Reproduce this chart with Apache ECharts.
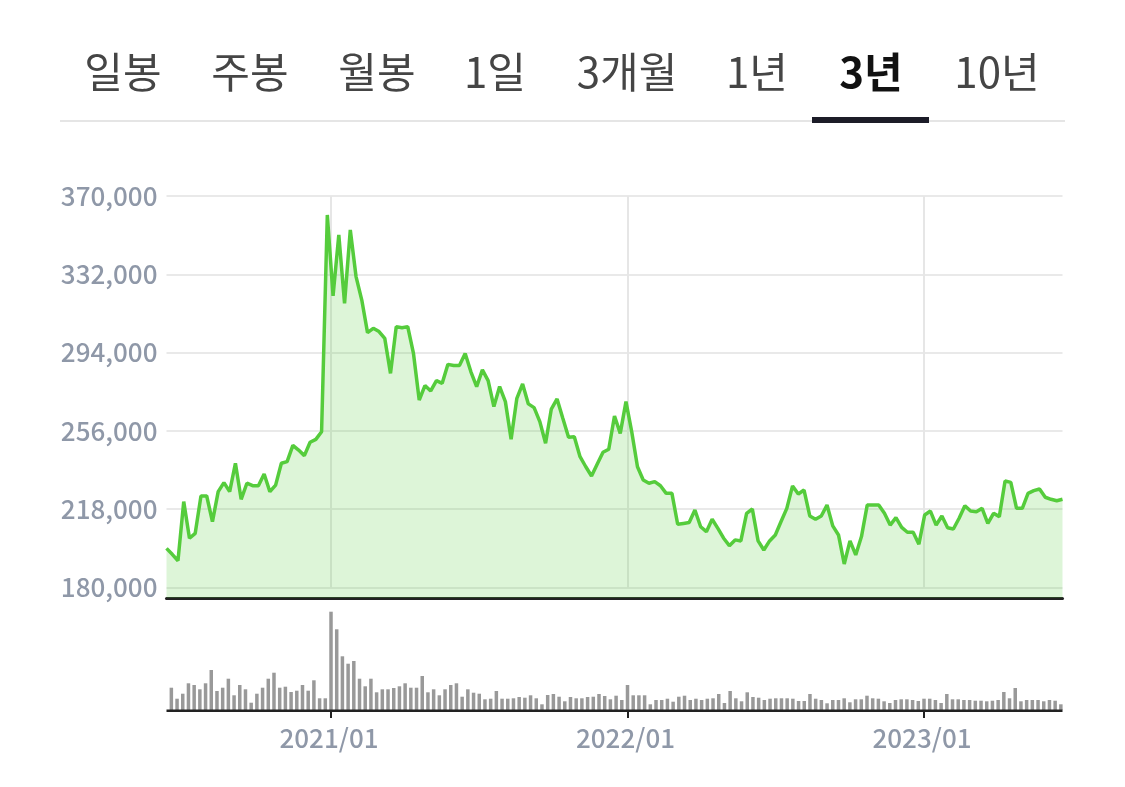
<!DOCTYPE html>
<html>
<head>
<meta charset="utf-8">
<title>3년 차트</title>
<style>
html, body { margin: 0; padding: 0; background: #fff; }
#main { width: 1125px; height: 787px; }
</style>
</head>
<body>
<div id="main"></div>
<script src="https://cdn.jsdelivr.net/npm/echarts@6/dist/echarts.min.js"></script>
<script>
var tabNames = ['일봉', '주봉', '월봉', '1일', '3개월', '1년', '3년', '10년'];
var activeTab = '3년';

var priceTicks = [180000, 218000, 256000, 294000, 332000, 370000];
var tickWeeks = [28, 80, 132];
var tickLabels = ['2021/01', '2022/01', '2023/01'];

// 주간 종가
var prices = [
    199000, 196100, 193000, 221700, 203900, 206300, 224400, 224400, 212000, 226500,
    230900, 226500, 240300, 222800, 230600, 229400, 229400, 235100, 226500, 229700,
    240300, 241100, 249000, 246700, 244000, 250500, 251900, 255600, 360800, 321500,
    351100, 317900, 353500, 330900, 319500, 303700, 305800, 304200, 300900, 283900,
    306600, 306100, 306600, 293600, 271000, 278000, 275400, 280400, 279100, 288300,
    287700, 287700, 293600, 284700, 277500, 285600, 280400, 267800, 277500, 270200,
    251900, 271800, 278800, 269100, 267300, 260500, 250000, 266600, 271500, 262100,
    252900, 253200, 243500, 238600, 234100, 239900, 245600, 247100, 263200, 254800,
    270200, 255600, 238600, 232200, 230600, 231400, 229400, 225700, 225700, 210700,
    211100, 211500, 217600, 209500, 207100, 213100, 208700, 203900, 200300, 203100,
    202600, 216000, 218100, 202600, 198200, 202600, 205500, 212000, 218400, 229300,
    225400, 227300, 214700, 213100, 214700, 220000, 209900, 205500, 191400, 202600,
    195800, 204700, 220000, 220000, 220000, 216000, 210300, 213900, 209200, 206800,
    206800, 201000, 215200, 217100, 210300, 214700, 209000, 208400, 213600, 219700,
    217100, 216800, 218400, 211100, 216000, 214400, 231700, 231000, 218400, 218400,
    225700, 227000, 227800, 223800, 222800, 222100, 222800
];

// 주간 거래량 (상대값)
var volumes = [
    22.3, 11.3, 16.3, 26.7, 25, 20.7, 26.7, 40, 19, 22.3,
    31.3, 14.7, 25, 20.7, 7.3, 16.3, 22.3, 31.3, 37.3, 22.3,
    23.3, 18, 19.3, 25, 19.3, 29.7, 11.7, 11.7, 98.3, 80.7,
    53.7, 46.3, 49, 31.3, 23.7, 31.3, 17.7, 20.7, 20.7, 22,
    23.7, 26.7, 22.3, 22.3, 34, 17.7, 20.7, 14.7, 20.7, 25,
    26.7, 13.3, 20.7, 17.3, 16.3, 10.7, 11.3, 19, 11.3, 11.3,
    11.7, 13, 12.3, 14.7, 11.7, 5.7, 15, 16, 13.3, 8.7,
    13, 11.7, 11.7, 13, 13.3, 16, 14, 10.7, 14.3, 10,
    25, 14.7, 14.7, 14.7, 5.7, 10, 10, 11.3, 8.3, 13.3,
    14.3, 10, 11.3, 10, 11.3, 11.7, 16, 7, 19, 11.7,
    8.7, 17.7, 13, 12.3, 10, 11.3, 11.7, 11.7, 11.7, 11.3,
    9, 9, 16, 11.3, 10, 6.7, 10, 10, 11.7, 7.7,
    10.7, 10.7, 14.3, 11.7, 11.3, 8.7, 7, 10, 10.7, 10.7,
    10, 9, 11.3, 11.3, 10, 7, 16, 10.7, 10.7, 10,
    10, 9.3, 9.3, 8.7, 9.3, 10, 18, 11.7, 22, 8.7,
    10, 10, 10, 8.7, 10, 9.3, 5.7
];

var weeks = [];
for (var i = 0; i < prices.length; i++) {
    weeks.push(i);
}

var tabCenters = [123, 250, 377, 495, 627, 757, 871, 997];
var labelFont = '"Noto Sans CJK KR", "Noto Sans", sans-serif';

function isTickWeek(index) {
    return tickWeeks.indexOf(index) >= 0;
}

// 상단 탭은 그냥 graphic 으로 그린다
var graphics = [];
for (var t = 0; t < tabNames.length; t++) {
    var active = tabNames[t] === activeTab;
    graphics.push({
        type: 'text',
        style: {
            text: tabNames[t],
            x: tabCenters[t],
            y: 72,
            textAlign: 'center',
            textVerticalAlign: 'middle',
            fill: active ? '#111111' : '#454545',
            font: (active ? 'bold ' : '') + '42px ' + labelFont
        }
    });
}
graphics.push({
    type: 'rect',
    shape: { x: 60, y: 120, width: 1005, height: 2 },
    style: { fill: '#e5e5e5' }
});
graphics.push({
    type: 'rect',
    shape: { x: 812, y: 117, width: 117, height: 6 },
    style: { fill: '#1c1c28' }
});
// 거래량 기준선
graphics.push({
    type: 'rect',
    shape: { x: 166.5, y: 709.5, width: 896, height: 2.5 },
    style: { fill: '#222222' },
    z: 5
});

var myChart = echarts.init(document.getElementById('main'));

var option = {
    animation: false,
    backgroundColor: '#ffffff',
    graphic: graphics,
    grid: [
        { left: 166.5, top: 196, width: 896, height: 402 },
        { left: 171.35, top: 196, width: 889.5, height: 391.5 },
        { left: 168.5, top: 610, width: 895.2, height: 100 }
    ],
    xAxis: [
        {
            type: 'category',
            gridIndex: 0,
            data: weeks,
            boundaryGap: false,
            axisLine: { show: true, lineStyle: { color: '#222222', width: 3 } },
            axisTick: { show: false },
            axisLabel: { show: false },
            splitLine: { show: false }
        },
        {
            // 연도 세로선
            type: 'category',
            gridIndex: 1,
            data: weeks,
            boundaryGap: false,
            axisLine: { show: false },
            axisTick: { show: false },
            axisLabel: { show: false },
            splitLine: { show: true, interval: function (index) { return isTickWeek(index); }, lineStyle: { color: '#e6e6e6', width: 2 } }
        },
        {
            type: 'category',
            gridIndex: 2,
            data: weeks,
            axisLine: { show: false },
            axisTick: {
                show: true,
                alignWithLabel: true,
                length: 8,
                interval: function (index) { return isTickWeek(index); },
                lineStyle: { color: '#222222', width: 2 }
            },
            axisLabel: {
                show: true,
                interval: function (index) { return isTickWeek(index); },
                formatter: function (value, index) { return tickLabels[tickWeeks.indexOf(index)]; },
                color: '#8f98a8',
                fontFamily: labelFont,
                fontSize: 26,
                fontWeight: 500,
                margin: 15,
                padding: [0, 4, 0, 0]
            },
            splitLine: { show: false }
        }
    ],
    yAxis: [
        {
            type: 'value',
            gridIndex: 0,
            min: 174900,
            max: 370000,
            axisLine: { show: false },
            axisTick: { show: false, customValues: priceTicks },
            axisLabel: {
                customValues: priceTicks,
                formatter: function (value) { return echarts.format.addCommas(value); },
                color: '#8f98a8',
                fontFamily: labelFont,
                fontSize: 26,
                fontWeight: 500,
                margin: 9
            },
            splitLine: { show: true, lineStyle: { color: '#e9e9e9', width: 2 } }
        },
        { type: 'value', gridIndex: 1, show: false },
        { type: 'value', gridIndex: 2, min: 0, max: 100, show: false }
    ],
    series: [
        {
            type: 'line',
            xAxisIndex: 0,
            yAxisIndex: 0,
            data: prices,
            symbol: 'none',
            lineStyle: { color: '#55cc3c', width: 3.5 },
            areaStyle: { color: 'rgba(85, 204, 60, 0.2)', opacity: 1 }
        },
        {
            type: 'bar',
            xAxisIndex: 2,
            yAxisIndex: 2,
            data: volumes,
            barWidth: 3.5,
            itemStyle: { color: '#999999' }
        }
    ]
};
myChart.setOption(option);
</script>
</body>
</html>
